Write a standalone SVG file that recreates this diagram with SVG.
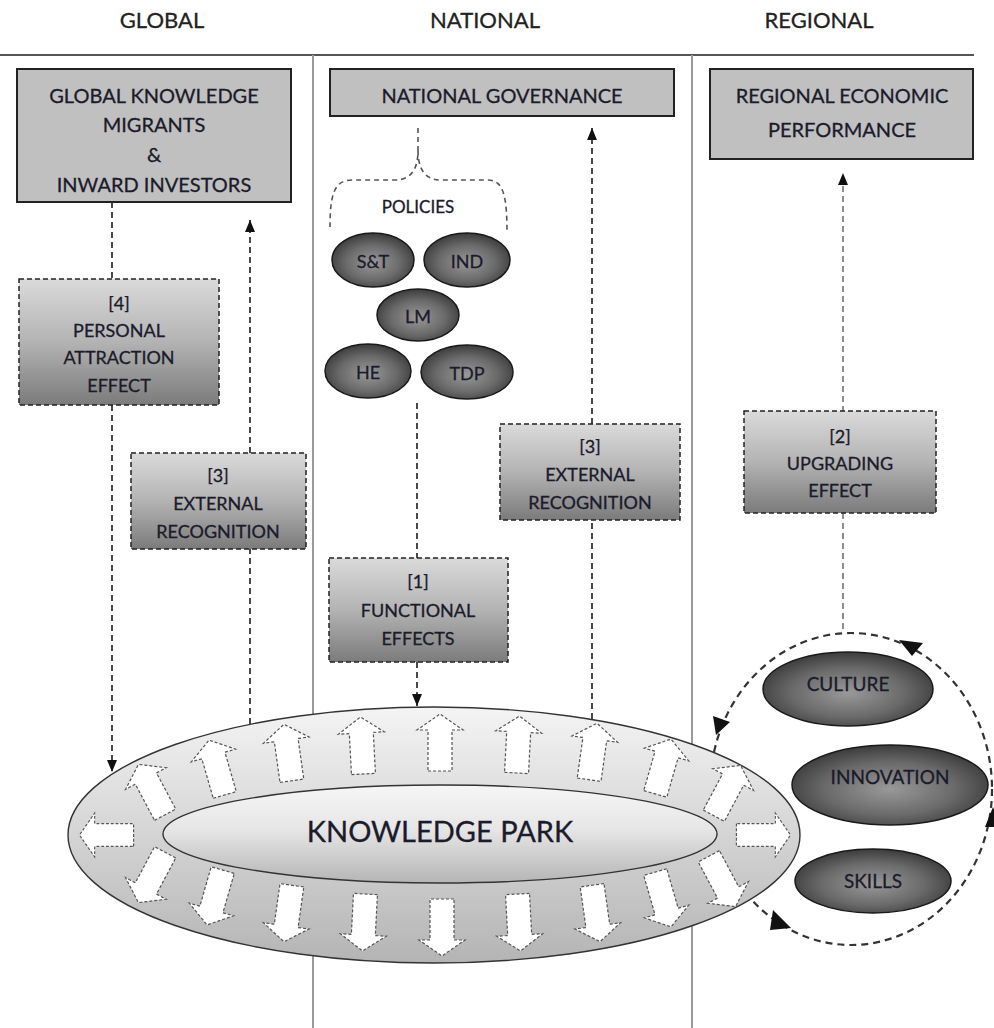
<svg xmlns="http://www.w3.org/2000/svg" width="994" height="1028" viewBox="0 0 994 1028">
<defs>
<style>
text{font-family:"Lato","Liberation Sans",sans-serif;fill:#1b1b2b;stroke:#1b1b2b;stroke-width:0.3;text-anchor:middle}
.hd{font-size:22px;fill:#222;stroke:#222}
.bt{font-size:20px}
.gt{font-size:18px}
.pt{font-size:18px}
.solid{fill:#c0c0c0;stroke:#222;stroke-width:2}
.grad{fill:url(#gbox);stroke:#222;stroke-width:1.5;stroke-dasharray:5 3}
.dk{fill:url(#dark);stroke:#1a1a1a;stroke-width:1.5}
.con{fill:none;stroke:#2a2a2a;stroke-width:1.7;stroke-dasharray:6 4}
.cong{fill:none;stroke:#7a7a7a;stroke-width:1.7;stroke-dasharray:6 4}
.blk{fill:#fff;stroke:#555;stroke-width:1.2;stroke-dasharray:3 2}
.tri{fill:#111}
</style>
<linearGradient id="gbox" x1="0" y1="0" x2="0" y2="1">
<stop offset="0" stop-color="#dadada"/><stop offset="0.5" stop-color="#b3b3b3"/><stop offset="1" stop-color="#7b7b7b"/>
</linearGradient>
<radialGradient id="dark" cx="0.5" cy="0.55" r="0.55">
<stop offset="0" stop-color="#999999"/><stop offset="0.6" stop-color="#6a6a6a"/><stop offset="1" stop-color="#3c3c3c"/>
</radialGradient>
<linearGradient id="outer" x1="0" y1="0" x2="0" y2="1">
<stop offset="0" stop-color="#f4f4f4"/><stop offset="1" stop-color="#b4b4b4"/>
</linearGradient>
<linearGradient id="inner" x1="0" y1="0" x2="0" y2="1">
<stop offset="0" stop-color="#f6f6f6"/><stop offset="0.45" stop-color="#e6e6e6"/><stop offset="1" stop-color="#b5b5b5"/>
</linearGradient>
<marker id="ah" markerUnits="userSpaceOnUse" markerWidth="12" markerHeight="12" viewBox="0 0 12 12" refX="12" refY="6" orient="auto">
<path d="M0,1 L12,6 L0,11 z" fill="#111"/>
</marker>
<path id="ba" d="M-12,28 L12,28 L12,-13 L23,-13 L0,-29 L-23,-13 L-12,-13 Z"/>
</defs>

<g id="frame">
<line x1="0" y1="55" x2="974" y2="55" stroke="#555" stroke-width="2"/>
<line x1="313" y1="55" x2="313" y2="1028" stroke="#9a9a9a" stroke-width="2"/>
<line x1="692" y1="55" x2="692" y2="1028" stroke="#9a9a9a" stroke-width="2"/>
<text class="hd" x="162" y="28">GLOBAL</text>
<text class="hd" x="485" y="28">NATIONAL</text>
<text class="hd" x="819" y="28">REGIONAL</text>
</g>

<g id="connectors">
<path class="con" d="M112,202 V278"/>
<path class="con" d="M112,405 V772" marker-end="url(#ah)"/>
<path class="con" d="M250,724 V549"/>
<path class="con" d="M250,453 V220" marker-end="url(#ah)"/>
<path class="con" d="M417,403 V558"/>
<path class="con" d="M417,662 V706" marker-end="url(#ah)"/>
<path class="con" d="M592,719 V520"/>
<path class="con" d="M592,424 V128" marker-end="url(#ah)"/>
<path class="cong" d="M843,412 V173" marker-end="url(#ah)"/>
<path class="cong" d="M843,513 V633"/>
<path fill="none" stroke="#555" stroke-width="1.6" stroke-dasharray="5 4" d="M418,128 V150 C418,168 412,180 395,180 H352 C334,180 330,195 330,227 M418,150 C418,168 424,180 441,180 H488 C504,180 507,198 507,233"/>
</g>

<g id="cycle">
<ellipse cx="851" cy="789" rx="141" ry="156" fill="none" stroke="#333" stroke-width="2.2" stroke-dasharray="7 5"/>
<polygon class="tri" points="899,640 923,643 912,656"/>
<polygon class="tri" points="713,716 730,722 716,735"/>
<polygon class="tri" points="773,910 791,928 770,930"/>
<polygon class="tri" points="993,807 985,827 1001,827"/>
</g>

<g id="knowledge-park">
<ellipse cx="434" cy="835" rx="366" ry="128" fill="url(#outer)" stroke="#333" stroke-width="1.4"/>
<ellipse cx="440" cy="834" rx="277" ry="49" fill="url(#inner)" stroke="#333" stroke-width="1.4"/>
<g id="ring-arrows">
<use href="#ba" class="blk" transform="translate(152,790) rotate(-28)"/>
<use href="#ba" class="blk" transform="translate(217,768) rotate(-16)"/>
<use href="#ba" class="blk" transform="translate(288,753) rotate(-8)"/>
<use href="#ba" class="blk" transform="translate(362,746) rotate(-3)"/>
<use href="#ba" class="blk" transform="translate(440,743)"/>
<use href="#ba" class="blk" transform="translate(518,745) rotate(3)"/>
<use href="#ba" class="blk" transform="translate(593,752) rotate(8)"/>
<use href="#ba" class="blk" transform="translate(663,767) rotate(16)"/>
<use href="#ba" class="blk" transform="translate(727,791) rotate(28)"/>
<use href="#ba" class="blk" transform="translate(763,835) rotate(90) scale(0.95)"/>
<use href="#ba" class="blk" transform="translate(107,835) rotate(-90) scale(0.95)"/>
<use href="#ba" class="blk" transform="translate(152,877) rotate(208)"/>
<use href="#ba" class="blk" transform="translate(215,897) rotate(196)"/>
<use href="#ba" class="blk" transform="translate(288,913) rotate(188)"/>
<use href="#ba" class="blk" transform="translate(364,922) rotate(183)"/>
<use href="#ba" class="blk" transform="translate(442,927) rotate(180)"/>
<use href="#ba" class="blk" transform="translate(519,922) rotate(177)"/>
<use href="#ba" class="blk" transform="translate(596,913) rotate(172)"/>
<use href="#ba" class="blk" transform="translate(663,899) rotate(164)"/>
<use href="#ba" class="blk" transform="translate(722,881) rotate(152)"/>
</g>
<text x="440" y="842" style="font-size:29px">KNOWLEDGE PARK</text>
</g>

<g id="global-box">
<rect class="solid" x="17" y="69" width="274" height="133"/>
<text class="bt" x="154" y="103">GLOBAL KNOWLEDGE</text>
<text class="bt" x="154" y="132">MIGRANTS</text>
<text class="bt" x="154" y="162">&amp;</text>
<text class="bt" x="154" y="192">INWARD INVESTORS</text>
</g>

<g id="national-box">
<rect class="solid" x="330" y="69" width="344" height="47"/>
<text class="bt" x="502" y="103">NATIONAL GOVERNANCE</text>
</g>

<g id="regional-box">
<rect class="solid" x="710" y="69" width="263" height="90"/>
<text class="bt" x="842" y="103">REGIONAL ECONOMIC</text>
<text class="bt" x="842" y="137">PERFORMANCE</text>
</g>

<g id="box4">
<rect class="grad" x="19" y="279" width="200" height="126"/>
<text class="gt" x="119" y="310">[4]</text>
<text class="gt" x="119" y="337">PERSONAL</text>
<text class="gt" x="119" y="364">ATTRACTION</text>
<text class="gt" x="119" y="392">EFFECT</text>
</g>

<g id="box3-global">
<rect class="grad" x="131" y="453" width="175" height="96"/>
<text class="gt" x="218" y="482">[3]</text>
<text class="gt" x="218" y="510">EXTERNAL</text>
<text class="gt" x="218" y="538">RECOGNITION</text>
</g>

<g id="box3-national">
<rect class="grad" x="500" y="424" width="180" height="96"/>
<text class="gt" x="590" y="453">[3]</text>
<text class="gt" x="590" y="481">EXTERNAL</text>
<text class="gt" x="590" y="509">RECOGNITION</text>
</g>

<g id="box1">
<rect class="grad" x="329" y="558" width="179" height="104"/>
<text class="gt" x="418" y="588">[1]</text>
<text class="gt" x="418" y="617">FUNCTIONAL</text>
<text class="gt" x="418" y="645">EFFECTS</text>
</g>

<g id="box2">
<rect class="grad" x="744" y="411" width="192" height="102"/>
<text class="gt" x="840" y="443">[2]</text>
<text class="gt" x="840" y="470">UPGRADING</text>
<text class="gt" x="840" y="497">EFFECT</text>
</g>

<g id="policies">
<text x="418" y="213" style="font-size:17px">POLICIES</text>
<g id="p-st"><ellipse class="dk" cx="373" cy="260" rx="41" ry="27"/><text class="pt" x="373" y="268">S&amp;T</text></g>
<g id="p-ind"><ellipse class="dk" cx="467" cy="260" rx="43" ry="27"/><text class="pt" x="467" y="268">IND</text></g>
<g id="p-lm"><ellipse class="dk" cx="418" cy="315" rx="41" ry="26"/><text class="pt" x="418" y="323">LM</text></g>
<g id="p-he"><ellipse class="dk" cx="368" cy="371" rx="43" ry="27"/><text class="pt" x="368" y="379">HE</text></g>
<g id="p-tdp"><ellipse class="dk" cx="467" cy="372" rx="46" ry="27"/><text class="pt" x="467" y="380">TDP</text></g>
</g>

<g id="culture"><ellipse class="dk" cx="848" cy="689" rx="85" ry="37"/><text x="848" y="691" style="font-size:19px">CULTURE</text></g>
<g id="innovation"><ellipse class="dk" cx="890" cy="785" rx="98" ry="40"/><text x="890" y="784" style="font-size:19px">INNOVATION</text></g>
<g id="skills"><ellipse class="dk" cx="873" cy="881" rx="78" ry="32"/><text x="873" y="888" style="font-size:19px">SKILLS</text></g>
</svg>
